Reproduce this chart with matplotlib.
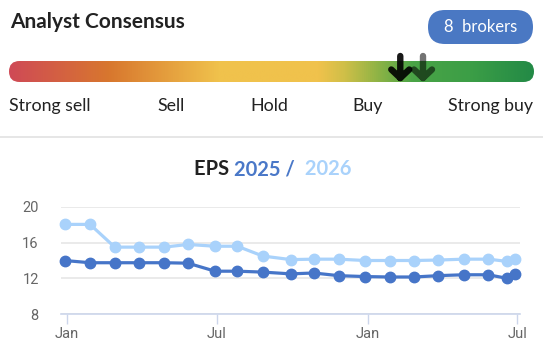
import numpy as np
import matplotlib.pyplot as plt
import matplotlib.dates as mdates
from matplotlib.colors import LinearSegmentedColormap
from matplotlib.patches import FancyBboxPatch
from datetime import date

# consensus scale
scale_labels = ["Strong sell", "Sell", "Hold", "Buy", "Strong buy"]
n_brokers = 8
consensus_now = 4.02   # position on 1..5 scale (black arrow)
consensus_prev = 4.20  # grey arrow

# EPS estimates history
dates = [date(2023, 12, 29), date(2024, 1, 29), date(2024, 2, 28), date(2024, 3, 28),
         date(2024, 4, 28), date(2024, 5, 27), date(2024, 6, 29), date(2024, 7, 26),
         date(2024, 8, 26), date(2024, 9, 29), date(2024, 10, 27), date(2024, 11, 26),
         date(2024, 12, 28), date(2025, 1, 27), date(2025, 2, 26), date(2025, 3, 27),
         date(2025, 4, 27), date(2025, 5, 27), date(2025, 6, 19), date(2025, 6, 28)]
eps_2025 = [14.0, 13.75, 13.75, 13.75, 13.75, 13.7, 12.8, 12.8, 12.7, 12.5,
            12.6, 12.3, 12.2, 12.15, 12.15, 12.3, 12.4, 12.4, 12.0, 12.45]
eps_2026 = [18.05, 18.05, 15.5, 15.5, 15.5, 15.8, 15.6, 15.6, 14.5, 14.1,
            14.15, 14.15, 14.0, 14.0, 14.0, 14.05, 14.15, 14.15, 13.9, 14.2]

W, H = 543, 351
fig = plt.figure(figsize=(W / 100, H / 100), dpi=100)

# overlay axes in pixel coordinates
ov = fig.add_axes([0, 0, 1, 1])
ov.set_xlim(0, W)
ov.set_ylim(H, 0)
ov.axis("off")

ov.text(10, 22, "Analyst Consensus", fontsize=15, fontweight="bold",
        family="Lato", color="#222222", va="center", ha="left")

pill = FancyBboxPatch((428, 10), 105, 34, boxstyle="round,pad=0,rounding_size=17",
                      fc="#4a78c3", ec="none")
ov.add_patch(pill)
ov.text(481, 27.5, f"{n_brokers}  brokers", fontsize=12, family="Lato",
        color="white", va="center", ha="center")

# gradient bar
bx0, bx1, by0, by1 = 9, 534, 61, 82
cmap = LinearSegmentedColormap.from_list("cons", [
    (0.0, "#cf4a56"), (0.19, "#d8772e"), (0.40, "#f0c24c"), (0.59, "#f0c24c"),
    (0.64, "#cfbf48"), (0.70, "#92b445"), (0.77, "#4aa447"), (0.88, "#3c9e46"),
    (1.0, "#238a46")])
grad = np.linspace(0, 1, 512).reshape(1, -1)
im = ov.imshow(grad, cmap=cmap, aspect="auto", extent=(bx0, bx1, by1, by0),
               interpolation="bilinear")
clip = FancyBboxPatch((bx0, by0), bx1 - bx0, by1 - by0,
                      boxstyle="round,pad=0,rounding_size=10.5", fc="none", ec="none")
ov.add_patch(clip)
im.set_clip_path(clip)


def arrow(val, alpha):
    x = bx0 + 10 + (val - 1) / 4 * (bx1 - bx0 - 20)
    ov.plot([x, x, np.nan, x - 9, x, x + 9], [56, 78, np.nan, 69.5, 78, 69.5],
            color="black", alpha=alpha, lw=4.6, solid_capstyle="round",
            solid_joinstyle="round")


arrow(consensus_now, 0.9)
arrow(consensus_prev, 0.55)

label_x = [9, 171, 269, 368, 533]
label_ha = ["left", "center", "center", "center", "right"]
for lab, x, ha in zip(scale_labels, label_x, label_ha):
    ov.text(x, 106, lab, fontsize=12.8, family="Lato", color="#222222",
            va="center", ha=ha)

ov.plot([0, W], [137, 137], color="#e2e2e2", lw=1.2)

# EPS title
t1 = ov.text(194, 169, "EPS ", fontsize=14.5, fontweight="bold", family="Lato",
             color="#222222", va="center", ha="left")
t2 = ov.annotate("2025 / ", xy=(1, 0), xycoords=t1, va="bottom", ha="left",
                 fontsize=14.5, fontweight="bold", family="Lato", color="#4a78c8")
ov.annotate(" 2026", xy=(1, 0), xycoords=t2, va="bottom", ha="left",
            fontsize=14.5, fontweight="bold", family="Lato", color="#a9d2fb")

# EPS chart
ax = fig.add_axes([61 / W, 1 - 314 / H, (520 - 61) / W, (314 - 207) / H])
d = mdates.date2num(dates)
ax.plot(d, eps_2026, color="#a9d2fb", lw=2.3, marker="o", ms=7.5, clip_on=False, zorder=3)
ax.plot(d, eps_2025, color="#4675c8", lw=2.3, marker="o", ms=7.5, clip_on=False, zorder=4)

jan24 = mdates.date2num(date(2024, 1, 1))
ax.set_xlim(jan24 - 7.3, jan24 + 550.6)
ax.set_ylim(8, 20)
ax.set_yticks([8, 12, 16, 20])
ax.xaxis.set_major_locator(mdates.MonthLocator(bymonth=[1, 7]))
ax.xaxis.set_major_formatter(mdates.DateFormatter("%b"))
ax.grid(axis="y", color="#e6e6e6", lw=1.2)
ax.set_axisbelow(True)
for s in ["top", "right", "left"]:
    ax.spines[s].set_visible(False)
ax.spines["bottom"].set_color("#ccd6eb")
ax.spines["bottom"].set_linewidth(1.2)
ax.tick_params(axis="y", length=0, pad=16, labelsize=10.5, labelcolor="#666666")
ax.tick_params(axis="x", length=7.5, width=1, color="#ccd6eb", pad=2,
               labelsize=10.5, labelcolor="#666666")
for t in ax.get_xticklabels() + ax.get_yticklabels():
    t.set_family("Roboto")

fig.savefig("out.png", dpi=100)
